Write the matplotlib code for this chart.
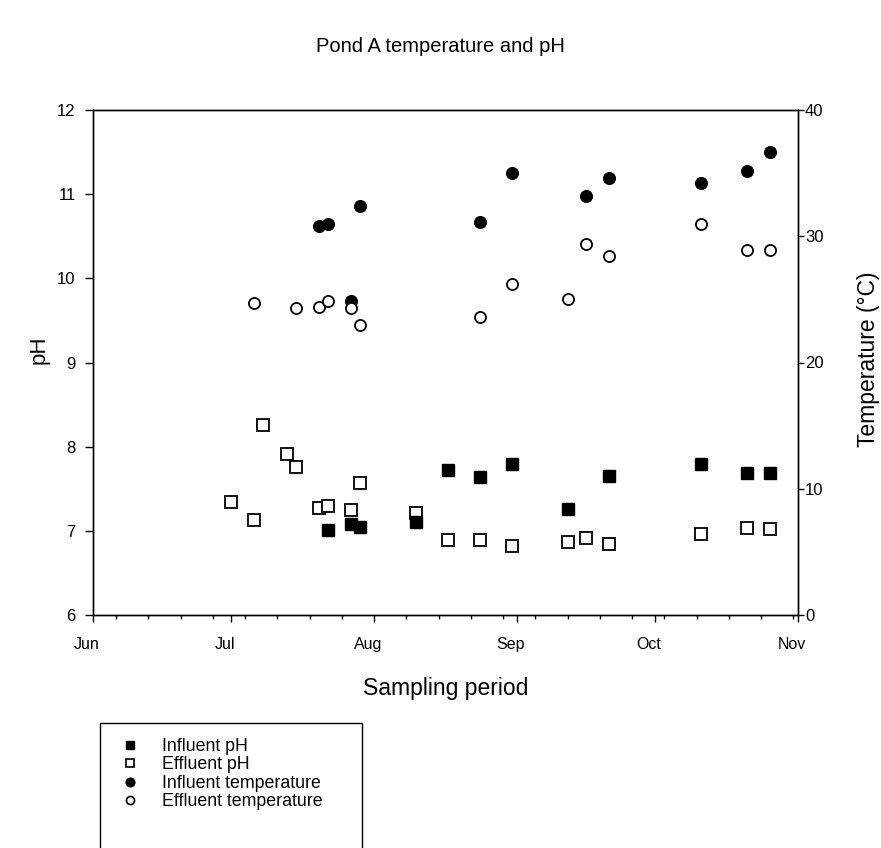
import matplotlib
matplotlib.use("Agg")
import matplotlib.pyplot as plt
import matplotlib.transforms as mtransforms
from matplotlib.lines import Line2D
from matplotlib.patches import Rectangle
import pandas as pd

plt.rcParams['font.family'] = ['Liberation Sans', 'DejaVu Sans']

YEAR = 2003
# Influent pH
inf_ph_dates = ["07-22", "07-27", "07-29", "08-10", "08-17", "08-24", "08-31",
                "09-12", "09-21", "10-11", "10-21", "10-26"]
inf_ph = [7.01, 7.08, 7.04, 7.10, 7.72, 7.64, 7.79, 7.26, 7.65, 7.79, 7.69, 7.69]

# Effluent pH
eff_ph_dates = ["07-01", "07-06", "07-08", "07-13", "07-15", "07-20", "07-22",
                "07-27", "07-29", "08-10", "08-17", "08-24", "08-31", "09-12",
                "09-16", "09-21", "10-11", "10-21", "10-26"]
eff_ph = [7.34, 7.13, 8.26, 7.91, 7.76, 7.27, 7.30, 7.25, 7.57, 7.21, 6.89,
          6.89, 6.82, 6.87, 6.91, 6.84, 6.96, 7.03, 7.02]

# Influent temperature (°C)
inf_t_dates = ["07-20", "07-22", "07-27", "07-29", "08-24", "08-31", "09-16",
               "09-21", "10-11", "10-21", "10-26"]
inf_t = [30.8, 31.0, 24.9, 32.4, 31.1, 35.0, 33.2, 34.6, 34.2, 35.2, 36.7]

# Effluent temperature (°C)
eff_t_dates = ["07-06", "07-15", "07-20", "07-22", "07-27", "07-29", "08-24",
               "08-31", "09-12", "09-16", "09-21", "10-11", "10-21", "10-26"]
eff_t = [24.7, 24.3, 24.4, 24.9, 24.3, 23.0, 23.6, 26.2, 25.0, 29.4, 28.4,
         31.0, 28.9, 28.9]

month_labels = ["Jun", "Jul", "Aug", "Sep", "Oct", "Nov"]
legend_labels = ["Influent pH", "Effluent pH", "Influent temperature",
                 "Effluent temperature"]


def to_dates(lst):
    return pd.to_datetime([f"{YEAR}-{d}" for d in lst])


W, H = 881, 848
fig = plt.figure(figsize=(W / 100, H / 100), dpi=100)
L, R, T, B = 93, 798, 110, 615
ax = fig.add_axes([L / W, 1 - B / H, (R - L) / W, (B - T) / H])
ax2 = ax.twinx()

ax.plot(to_dates(eff_ph_dates), eff_ph, ls='none', marker='s', ms=8.2,
        mfc='white', mec='black', mew=1.3, clip_on=False, zorder=3)
ax.plot(to_dates(inf_ph_dates), inf_ph, ls='none', marker='s', ms=8.4,
        mfc='black', mec='black', mew=1.0, clip_on=False, zorder=4)
ax2.plot(to_dates(eff_t_dates), eff_t, ls='none', marker='o', ms=8.0,
         mfc='white', mec='black', mew=1.3, clip_on=False, zorder=3)
ax2.plot(to_dates(inf_t_dates), inf_t, ls='none', marker='o', ms=8.4,
         mfc='black', mec='black', mew=1.0, clip_on=False, zorder=2)

x0 = pd.Timestamp(f"{YEAR}-06-01")
x1 = pd.Timestamp(f"{YEAR}-11-01")
ax.set_xlim(x0, x1)
ax.set_ylim(6, 12)
ax2.set_ylim(0, 40)

ax.set_yticks(range(6, 13))
ax2.set_yticks(range(0, 41, 10))

major = pd.date_range(x0, x1, freq='MS')
ax.set_xticks(major)
ax.set_xticklabels(month_labels)
minor = pd.date_range(f"{YEAR}-06-06", x1, freq='7D')
ax.set_xticks(minor, minor=True)

for a in (ax, ax2):
    for s in a.spines.values():
        s.set_linewidth(1.0)
        s.set_color('black')

ax.tick_params(axis='x', which='major', direction='out', length=5, width=1,
               pad=11, labelsize=11.5)
ax.tick_params(axis='x', which='minor', direction='out', length=3, width=1)
ax.tick_params(axis='y', which='major', direction='out', length=5.5, width=1,
               pad=7, labelsize=12)
ax2.tick_params(axis='y', which='major', direction='out', length=4.5, width=1,
                pad=0.5, labelsize=12)

offset = mtransforms.ScaledTranslation(-6 / 100, 0, fig.dpi_scale_trans)
for lab in ax.get_xticklabels():
    lab.set_transform(lab.get_transform() + offset)

fig.text(440 / W, 1 - 47 / H, "Pond A temperature and pH", ha='center',
         va='center', fontsize=14.5)
fig.text(39 / W, 1 - 350 / H, "pH", ha='center', va='center', rotation=90,
         fontsize=16)
fig.text(868 / W, 1 - 359 / H, "Temperature (°C)", ha='center', va='center',
         rotation=90, fontsize=16.5)
fig.text(446 / W, 1 - 688 / H, "Sampling period", ha='center', va='center',
         fontsize=16.5)

# Legend box
rect = Rectangle((100 / W, 1 - 860 / H), (362 - 100) / W, (860 - 723) / H,
                 transform=fig.transFigure, fill=False, edgecolor='black',
                 linewidth=1.0, clip_on=False)
fig.patches.append(rect)

handles = [
    Line2D([], [], ls='none', marker='s', ms=6.3, mfc='black', mec='black'),
    Line2D([], [], ls='none', marker='s', ms=6.3, mfc='white', mec='black', mew=1.2),
    Line2D([], [], ls='none', marker='o', ms=6.3, mfc='black', mec='black'),
    Line2D([], [], ls='none', marker='o', ms=5.8, mfc='white', mec='black', mew=1.2),
]
fig.legend(handles, legend_labels, loc='upper left',
           bbox_to_anchor=(121 / W, 1 - 738 / H), frameon=False,
           fontsize=12.8, handlelength=1.0, handletextpad=1.3,
           labelspacing=0.08, borderpad=0, borderaxespad=0)

fig.savefig("out.png", dpi=100)
